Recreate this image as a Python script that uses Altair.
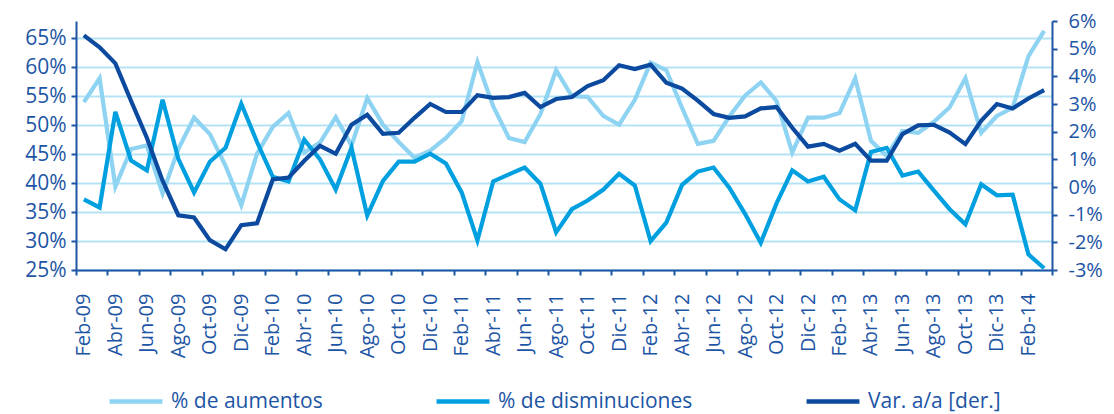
import altair as alt
import pandas as pd

meses = ["Feb-09","Mar-09","Abr-09","May-09","Jun-09","Jul-09","Ago-09","Sep-09","Oct-09","Nov-09","Dic-09","Ene-10",
         "Feb-10","Mar-10","Abr-10","May-10","Jun-10","Jul-10","Ago-10","Sep-10","Oct-10","Nov-10","Dic-10","Ene-11",
         "Feb-11","Mar-11","Abr-11","May-11","Jun-11","Jul-11","Ago-11","Sep-11","Oct-11","Nov-11","Dic-11","Ene-12",
         "Feb-12","Mar-12","Abr-12","May-12","Jun-12","Jul-12","Ago-12","Sep-12","Oct-12","Nov-12","Dic-12","Ene-13",
         "Feb-13","Mar-13","Abr-13","May-13","Jun-13","Jul-13","Ago-13","Sep-13","Oct-13","Nov-13","Dic-13","Ene-14",
         "Feb-14","Mar-14"]

aumentos = [54.0, 58.1, 39.4, 45.9, 46.5, 38.2, 45.9, 51.3, 48.5, 43.0, 36.2, 45.1,
            49.7, 52.1, 45.3, 47.0, 51.4, 46.5, 54.7, 50.1, 47.1, 44.4, 45.6, 47.8,
            50.7, 60.9, 53.3, 47.8, 47.1, 51.9, 59.5, 55.0, 54.9, 51.6, 50.1, 54.4,
            60.8, 59.5, 53.0, 46.8, 47.3, 51.5, 55.1, 57.4, 54.2, 45.3, 51.3, 51.3,
            52.1, 58.1, 47.3, 44.7, 49.0, 48.7, 50.6, 53.1, 58.1, 48.7, 51.6, 53.0,
            61.9, 66.3]

disminuciones = [37.2, 35.8, 52.3, 43.9, 42.2, 54.4, 44.2, 38.4, 43.7, 46.1, 53.7, 47.1,
                 41.1, 40.3, 47.5, 44.1, 38.9, 46.1, 34.4, 40.4, 43.7, 43.7, 45.1, 43.4,
                 38.4, 30.1, 40.3, 41.5, 42.7, 39.9, 31.5, 35.5, 37.0, 38.9, 41.6, 39.6,
                 30.0, 33.2, 39.7, 42.0, 42.7, 39.2, 34.7, 29.7, 36.5, 42.2, 40.3, 41.1,
                 37.2, 35.3, 45.4, 46.1, 41.3, 42.0, 38.7, 35.5, 32.9, 39.8, 37.9, 38.0,
                 27.7, 25.3]

var_aa = [5.48, 5.05, 4.47, 3.11, 1.78, 0.23, -1.02, -1.10, -1.92, -2.25, -1.38, -1.31,
          0.27, 0.34, 0.95, 1.49, 1.20, 2.25, 2.61, 1.92, 1.96, 2.50, 3.00, 2.71,
          2.71, 3.32, 3.22, 3.25, 3.40, 2.89, 3.18, 3.25, 3.65, 3.86, 4.40, 4.26,
          4.42, 3.77, 3.56, 3.12, 2.64, 2.50, 2.55, 2.84, 2.89, 2.14, 1.46, 1.56,
          1.31, 1.56, 0.95, 0.95, 1.91, 2.23, 2.25, 1.97, 1.55, 2.39, 3.00, 2.84,
          3.20, 3.50]

series = ["% de aumentos", "% de disminuciones", "Var. a/a [der.]"]
colores = ["#8ED3F2", "#00A0E0", "#0B4A9E"]
texto = "#1D55A5"
rejilla = "#B5E3F6"
fuente = "Open Sans"

n = len(meses)
izq_df = pd.DataFrame({
    "i": list(range(n)) * 2,
    "serie": [series[0]] * n + [series[1]] * n,
    "valor": aumentos + disminuciones,
})
der_df = pd.DataFrame({
    "i": list(range(n)),
    "serie": [series[2]] * n,
    "valor": var_aa,
})

tick_vals = [k - 0.5 for k in range(0, n + 1, 2)]
label_arr = "[" + ",".join("'" + m + "'" for m in meses) + "]"
label_expr = f"{label_arr}[round(datum.value + 0.5)] || ''"

W = 976
H = 249

x_enc = alt.X(
    "i:Q",
    scale=alt.Scale(domain=[-0.5, n - 0.5], nice=False, zero=False),
    axis=alt.Axis(
        values=tick_vals, labelExpr=label_expr, labelAngle=270,
        labelOffset=W / n / 2, labelPadding=18, tickSize=5, tickWidth=2,
        domainWidth=2, domainColor=texto, tickColor=texto, labelColor=texto,
        labelFontSize=20, labelFont=fuente, grid=False, title=None,
        labelOverlap=False, labelBound=False, labelFlush=False,
    ),
)

color_enc = alt.Color(
    "serie:N",
    scale=alt.Scale(domain=series, range=colores),
    legend=alt.Legend(
        orient="none", direction="horizontal", columns=3, legendX=31, legendY=351.5,
        title=None, symbolType="stroke", symbolSize=2800, symbolStrokeWidth=4.5,
        labelFontSize=21, labelFont=fuente, labelColor=texto, columnPadding=104,
        labelOffset=6, labelLimit=400,
    ),
)

izq = alt.Chart(izq_df).mark_line(strokeWidth=4.2).encode(
    x=x_enc,
    y=alt.Y(
        "valor:Q",
        scale=alt.Scale(domain=[25, 68], nice=False, zero=False),
        axis=alt.Axis(
            values=[25, 30, 35, 40, 45, 50, 55, 60, 65], labelExpr="datum.value + '%'",
            orient="left", grid=True, gridColor=rejilla, gridWidth=2,
            domainColor=texto, domainWidth=2, tickColor=texto, tickWidth=2, tickSize=5,
            labelColor=texto, labelFontSize=21, labelFont=fuente, labelPadding=5, title=None,
        ),
    ),
    color=color_enc,
    order="i:Q",
)

der = alt.Chart(der_df).mark_line(strokeWidth=4.2).encode(
    x=x_enc,
    y=alt.Y(
        "valor:Q",
        scale=alt.Scale(domain=[-3, 6], nice=False, zero=False),
        axis=alt.Axis(
            values=[-3, -2, -1, 0, 1, 2, 3, 4, 5, 6], labelExpr="datum.value + '%'",
            orient="right", grid=False,
            domainColor=texto, domainWidth=2, tickColor=texto, tickWidth=2, tickSize=5,
            labelColor=texto, labelFontSize=20, labelFont=fuente, labelPadding=11, title=None,
        ),
    ),
    color=color_enc,
    order="i:Q",
)

chart = (
    alt.layer(izq, der)
    .resolve_scale(y="independent")
    .properties(
        width=W, height=H, background="white",
        autosize=alt.AutoSizeParams(type="none"),
        padding={"left": 68, "top": 13, "right": 54, "bottom": 144},
    )
    .configure_view(stroke=None)
)

chart.save("out.html", embed_options={"renderer": "svg", "actions": False})
